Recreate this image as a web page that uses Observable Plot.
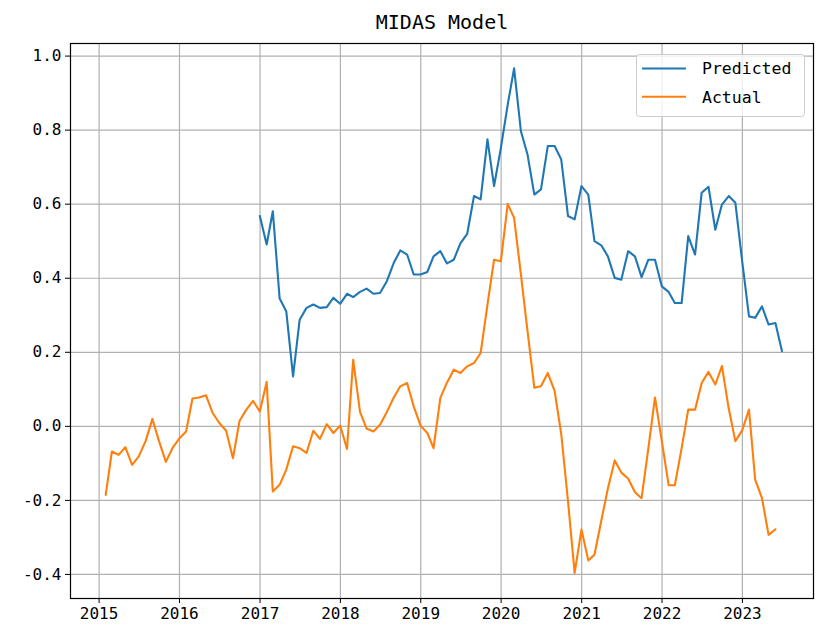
<!DOCTYPE html>
<html>
<head>
<meta charset="utf-8">
<script src="https://cdn.jsdelivr.net/npm/d3@7"></script>
<script src="https://cdn.jsdelivr.net/npm/@observablehq/plot@0.6"></script>
<style>
  html, body { margin: 0; padding: 0; background: #fff; }
  #chart svg { display: block; }
</style>
</head>
<body>
<div id="chart"></div>
<script>
// ---- data (monthly, month-end) ----
const actualStart = "2015-01";
const actualValues = [
  -0.185, -0.068, -0.077, -0.056, -0.104, -0.081, -0.040, 0.020, -0.040, -0.096, -0.059, -0.033,
  -0.014, 0.075, 0.078, 0.084, 0.036, 0.009, -0.012, -0.086, 0.015, 0.045, 0.069, 0.040,
  0.120, -0.176, -0.158, -0.117, -0.054, -0.059, -0.072, -0.012, -0.034, 0.006, -0.018, 0.002,
  -0.061, 0.180, 0.039, -0.006, -0.014, 0.004, 0.039, 0.077, 0.108, 0.117, 0.054, 0.002,
  -0.018, -0.059, 0.077, 0.118, 0.153, 0.144, 0.162, 0.171, 0.198, 0.329, 0.450, 0.446,
  0.601, 0.563, 0.410, 0.257, 0.104, 0.108, 0.144, 0.096, -0.020, -0.203, -0.396, -0.279,
  -0.362, -0.347, -0.255, -0.168, -0.092, -0.125, -0.141, -0.178, -0.194, -0.059, 0.078, -0.040,
  -0.159, -0.159, -0.059, 0.045, 0.045, 0.117, 0.147, 0.113, 0.163, 0.048, -0.040, -0.011,
  0.045, -0.144, -0.194, -0.293, -0.278
];
const predictedStart = "2016-12";
const predictedValues = [
  0.568,
  0.491, 0.581, 0.345, 0.311, 0.135, 0.288, 0.320, 0.329, 0.320, 0.322, 0.347, 0.331,
  0.358, 0.349, 0.363, 0.372, 0.358, 0.360, 0.392, 0.441, 0.475, 0.464, 0.410, 0.410,
  0.417, 0.459, 0.473, 0.440, 0.450, 0.494, 0.520, 0.622, 0.613, 0.775, 0.649, 0.752,
  0.869, 0.967, 0.797, 0.734, 0.626, 0.640, 0.757, 0.757, 0.721, 0.568, 0.559, 0.649,
  0.626, 0.500, 0.489, 0.459, 0.401, 0.396, 0.473, 0.459, 0.403, 0.450, 0.450, 0.378,
  0.363, 0.333, 0.333, 0.514, 0.464, 0.631, 0.647, 0.531, 0.599, 0.622, 0.604, 0.446,
  0.297, 0.293, 0.324, 0.275, 0.279, 0.203
];
const seriesNames = ["Predicted", "Actual"];
const seriesColors = ["#1f77b4", "#ff7f0e"];
const xTickYears = [2015, 2016, 2017, 2018, 2019, 2020, 2021, 2022, 2023];
const yTicks = [-0.4, -0.2, 0.0, 0.2, 0.4, 0.6, 0.8, 1.0];
const titleText = "MIDAS Model";

// month-end dates for a series
function monthEnds(start, n) {
  const [yy, mm] = start.split("-").map(Number);
  return d3.range(n).map(i => new Date(Date.UTC(yy, mm - 1 + i + 1, 0)));
}
const actual = monthEnds(actualStart, actualValues.length).map((date, i) => ({date, value: actualValues[i], series: "Actual"}));
const predicted = monthEnds(predictedStart, predictedValues.length).map((date, i) => ({date, value: predictedValues[i], series: "Predicted"}));

const font = "'DejaVu Sans Mono', monospace";
const yearDates = xTickYears.map(y => new Date(Date.UTC(y, 0, 1)));

const plot = Plot.plot({
  width: 824,
  height: 639,
  marginLeft: 70,
  marginRight: 11,
  marginTop: 43,
  marginBottom: 41,
  style: {fontFamily: font, background: "#fff", color: "#000"},
  x: {type: "utc", domain: [new Date(Date.UTC(2014, 7, 24)), new Date(Date.UTC(2023, 10, 20))]},
  y: {domain: [-0.465, 1.034]},
  color: {domain: seriesNames, range: seriesColors},
  marks: [
    Plot.gridX(yearDates, {stroke: "#b0b0b0", strokeOpacity: 1, strokeWidth: 1.2}),
    Plot.gridY(yTicks, {stroke: "#b0b0b0", strokeOpacity: 1, strokeWidth: 1.2}),
    Plot.line(predicted, {x: "date", y: "value", stroke: "series", strokeWidth: 2.1}),
    Plot.line(actual, {x: "date", y: "value", stroke: "series", strokeWidth: 2.1}),
    Plot.frame({stroke: "#000", strokeWidth: 1.2}),
    Plot.axisX(yearDates, {
      tickFormat: d3.utcFormat("%Y"), tickSize: 5, tickPadding: 4, fontSize: 16, label: null, stroke: "#000"
    }),
    Plot.axisY(yTicks, {
      tickFormat: d => d.toFixed(1), tickSize: 5, tickPadding: 4, fontSize: 16, label: null, stroke: "#000"
    }),
    Plot.text([titleText], {frameAnchor: "top", dy: -21, fontSize: 20, fill: "#000", lineAnchor: "middle"})
  ]
});

// legend (upper right, matplotlib style)
const svg = d3.select(plot);
const lg = svg.append("g").attr("font-family", font).attr("font-size", 16.5).attr("text-anchor", "start");
lg.append("rect")
  .attr("x", 636.5).attr("y", 54.5).attr("width", 168).attr("height", 62).attr("rx", 3)
  .attr("fill", "#fff").attr("fill-opacity", 0.8).attr("stroke", "#cccccc").attr("stroke-width", 1);
seriesNames.forEach((name, i) => {
  const yy = 68.5 + i * 28.3;
  lg.append("line").attr("x1", 642).attr("x2", 686).attr("y1", yy).attr("y2", yy)
    .attr("stroke", seriesColors[i]).attr("stroke-width", 2.1);
  lg.append("text").attr("x", 702).attr("y", yy).attr("dy", "0.35em").attr("fill", "#000")
    .attr("text-anchor", "start").text(name);
});

document.getElementById("chart").appendChild(plot);
</script>
</body>
</html>
